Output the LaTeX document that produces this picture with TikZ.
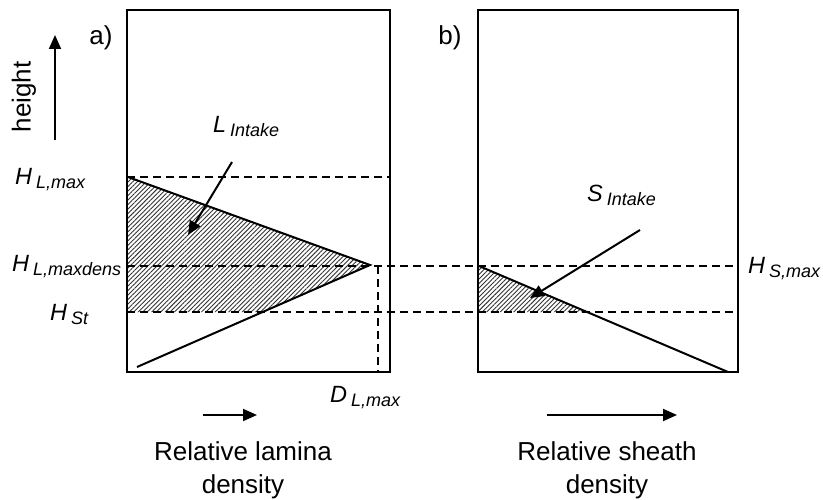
\documentclass[tikz,border=0pt]{standalone}
\usepackage{fontspec}
\setmainfont{Liberation Sans}
\usetikzlibrary{arrows.meta,patterns.meta}
\tikzset{
    panel/.style={line width=2.6pt},
    profile/.style={line width=2pt},
    levelline/.style={line width=1.8pt,dash pattern=on 8pt off 5pt},
    pointer/.style={-{Triangle[length=14pt,width=12pt]},line width=2pt},
    intake/.style={draw=none,pattern={Lines[angle=45,distance=3.2pt,line width=0.9pt]},pattern color=black!80},
    txt/.style={font=\fontsize{26}{33}\selectfont,inner sep=0pt},
    sym/.style={font=\fontsize{23.5}{28}\selectfont\itshape,inner sep=0pt,anchor=base west}
}
\newcommand{\symlbl}[2]{#1\,\raisebox{-4pt}{\fontsize{18}{21}\selectfont #2}}

\begin{document}
\begin{tikzpicture}[x=1pt,y=-1pt]
    \useasboundingbox (0,0) rectangle (823,500);
    % Key points
    \coordinate (LboxNW) at (127,10);
    \coordinate (LboxSE) at (390,372);
    \coordinate (RboxNW) at (478,10);
    \coordinate (RboxSE) at (738,372);
    \coordinate (Ltop) at (128,177);
    \coordinate (Lpeak) at (370,265);
    \coordinate (Lfoot) at (137,367);
    \coordinate (Lcut) at (263,312);
    \coordinate (Lst) at (128,312);
    \coordinate (Stop) at (479,266);
    \coordinate (Scut) at (586,312);
    \coordinate (Sst) at (479,312);
    \coordinate (Sfoot) at (728,372);
    \coordinate (Dpt) at (378,372);
    % Intake areas
    \fill[intake] (Ltop) -- (Lpeak) -- (Lcut) -- (Lst) -- cycle;
    \fill[intake] (Stop) -- (Scut) -- (Sst) -- cycle;
    % Height levels
    \draw[levelline] (127,177) -- (390,177);
    \draw[levelline] (127,266) -- (735,266);
    \draw[levelline] (127,312) -- (735,312);
    \draw[levelline] (378,266) -- (Dpt);
    % Density profiles
    \draw[profile] (Ltop) -- (Lpeak) -- (Lfoot);
    \draw[profile] (Stop) -- (Sfoot);
    % Panels
    \draw[panel] (LboxNW) rectangle (LboxSE);
    \draw[panel] (RboxNW) rectangle (RboxSE);
    % Labels
    \node[txt] (pa) at (101,38) {a)};
    \node[txt] (pb) at (450,38) {b)};
    \node[txt,rotate=90] (hgt) at (24,97) {height};
    \node[sym] (hlmax) at (15,185) {\symlbl{H}{L,max}};
    \node[sym] (hlmd) at (12,272) {\symlbl{H}{L,maxdens}};
    \node[sym] (hst) at (50,320) {\symlbl{H}{St}};
    \node[sym] (dlmax) at (330,402) {\symlbl{D}{L,max}};
    \node[sym] (hsmax) at (748,273) {\symlbl{H}{S,max}};
    \node[sym] (lin) at (213,133) {\symlbl{L}{Intake}};
    \node[sym] (sin) at (587,202) {\symlbl{S}{Intake}};
    \node[txt,align=center] (lamina) at (243,470) {Relative lamina\\density};
    \node[txt,align=center] (sheath) at (607,470) {Relative sheath\\density};
    % Arrows
    \coordinate (hgtA) at (55,140);
    \coordinate (hgtB) at (55,35);
    \coordinate (linA) at (232,162);
    \coordinate (linB) at (188,235);
    \coordinate (sinA) at (640,230);
    \coordinate (sinB) at (530,298);
    \coordinate (ldA) at (203,415);
    \coordinate (ldB) at (257,415);
    \coordinate (sdA) at (547,415);
    \coordinate (sdB) at (677,415);
    \draw[pointer] (hgtA) -- (hgtB);
    \draw[pointer] (linA) -- (linB);
    \draw[pointer] (sinA) -- (sinB);
    \draw[pointer] (ldA) -- (ldB);
    \draw[pointer] (sdA) -- (sdB);
\end{tikzpicture}
\end{document}
